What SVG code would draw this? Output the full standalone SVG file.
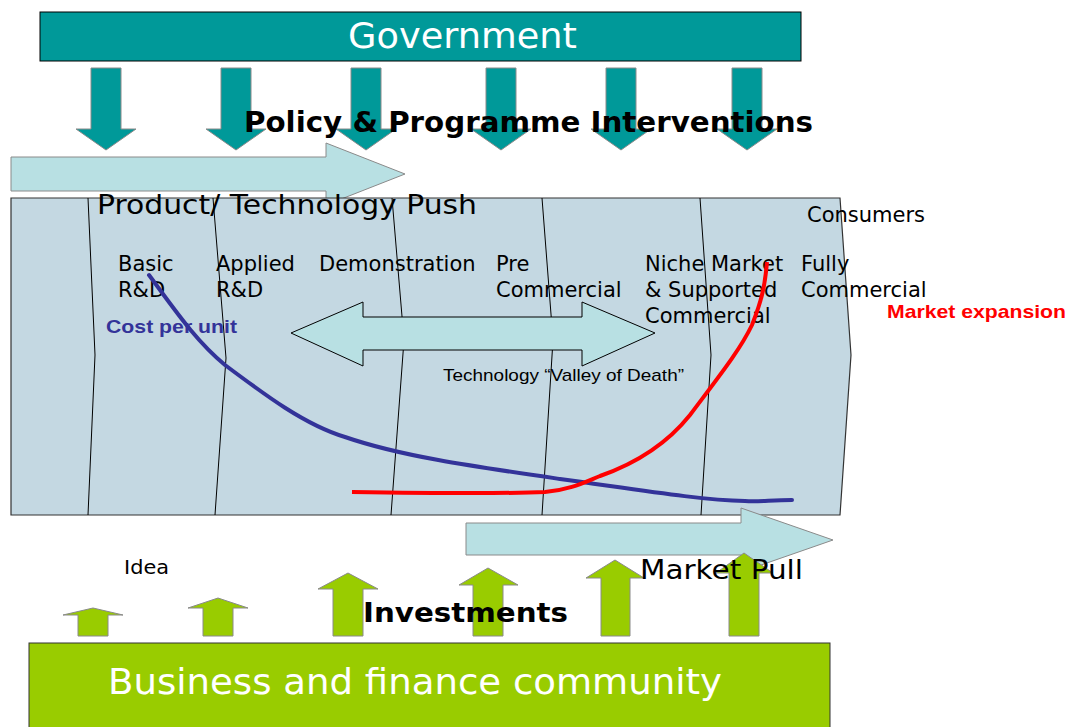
<svg xmlns="http://www.w3.org/2000/svg" width="1071" height="727" viewBox="0 0 1071 727">
  <style>
    .reg { font-family: "DejaVu Sans", Verdana, sans-serif; fill: #000; }
    .bold { font-family: "DejaVu Sans", Verdana, sans-serif; font-weight: bold; fill: #000; }
    .arial { font-family: "Liberation Sans", Arial, sans-serif; }
    .white { fill: #fff; }
    .stage { font-size: 21px; }
    .down { fill: #009999; stroke: #8a8a8a; stroke-width: 1; }
    .up { fill: #99CC00; stroke: #8a8a8a; stroke-width: 1; }
    .flow { fill: #B8E0E3; stroke: #8a8a8a; stroke-width: 1; }
    .divider { fill: none; stroke: #000; stroke-width: 1; }
  </style>

  <!-- Government bar -->
  <g id="government">
    <rect x="40" y="12" width="761" height="49" fill="#009999" stroke="#000" stroke-width="1"/>
    <text class="reg white" x="348" y="48" font-size="36" textLength="229" lengthAdjust="spacingAndGlyphs">Government</text>
  </g>

  <!-- Product / technology push arrow -->
  <g id="push-arrow">
    <polygon class="flow" points="11,157 326,157 326,143 405,174 326,205 326,191 11,191"/>
  </g>

  <!-- Policy interventions: downward arrows from government -->
  <g id="policy-arrows">
    <polygon class="down" points="91,68 121,68 121,129 136,129 106,150 76,129 91,129"/>
    <polygon class="down" points="221,68 251,68 251,129 266,129 236,150 206,129 221,129"/>
    <polygon class="down" points="351,68 381,68 381,129 396,129 366,150 336,129 351,129"/>
    <polygon class="down" points="486,68 516,68 516,129 531,129 501,150 471,129 486,129"/>
    <polygon class="down" points="606,68 636,68 636,129 651,129 621,150 591,129 606,129"/>
    <polygon class="down" points="732,68 762,68 762,129 777,129 747,150 717,129 732,129"/>
  </g>
  <g id="policy-label">
    <text class="bold" x="244" y="132" font-size="28" textLength="569" lengthAdjust="spacingAndGlyphs">Policy &amp; Programme Interventions</text>
  </g>

  <!-- Innovation chain stages -->
  <g id="stages">
    <path d="M11,198 H840 L851,355 L840,515 H11 Z" fill="#C4D8E2" stroke="#333" stroke-width="1.2"/>
    <polyline class="divider" points="88,198 95,355 88,515"/>
    <polyline class="divider" points="213,198 226,358 215,515"/>
    <polyline class="divider" points="392,198 404,340 391,515"/>
    <polyline class="divider" points="542,198 553,340 542,515"/>
    <polyline class="divider" points="700,198 711,355 701,515"/>
  </g>

  <g id="push-label">
    <text class="reg" x="97" y="214" font-size="27" textLength="380" lengthAdjust="spacingAndGlyphs">Product/ Technology Push</text>
  </g>

  <g id="stage-labels" class="reg stage">
    <text x="118" y="271">Basic</text>
    <text x="118" y="297">R&amp;D</text>
    <text x="216" y="271">Applied</text>
    <text x="216" y="297">R&amp;D</text>
    <text x="319" y="271">Demonstration</text>
    <text x="496" y="271">Pre</text>
    <text x="496" y="297">Commercial</text>
    <text x="645" y="271">Niche Market</text>
    <text x="645" y="297">&amp; Supported</text>
    <text x="645" y="323">Commercial</text>
    <text x="801" y="271">Fully</text>
    <text x="801" y="297">Commercial</text>
    <text x="807" y="222">Consumers</text>
  </g>

  <!-- Valley of death double arrow -->
  <g id="valley-of-death">
    <polygon points="291,333 363,302 363,317 582,317 582,302 655,333 582,366 582,350 363,350 363,366" fill="#B8E0E3" stroke="#000" stroke-width="1"/>
    <text class="arial" x="443" y="381" font-size="17" fill="#000" textLength="241" lengthAdjust="spacingAndGlyphs">Technology “Valley of Death”</text>
  </g>

  <!-- Curves: cost per unit and market expansion -->
  <g id="curves" fill="none" stroke-width="4" stroke-linecap="round">
    <path id="cost-curve" d="M149,275 C175,310 195,340 225,365 C265,395 305,425 345,437 C400,456 470,466 560,479 C640,490 700,500 745,501 C760,502 770,500 792,500" stroke="#333399"/>
    <path id="market-curve" d="M352,492 C420,493 500,494 545,492 C570,490 585,482 600,476 C640,462 670,440 690,415 C720,375 740,350 752,325 C762,300 765,285 767,262" stroke="#FF0000" stroke-linecap="butt"/>
  </g>

  <g id="curve-labels" class="arial" font-weight="bold">
    <text x="106" y="333" font-size="19" fill="#333399" textLength="131" lengthAdjust="spacingAndGlyphs">Cost per unit</text>
    <text x="887" y="318" font-size="19" fill="#FF0000" textLength="179" lengthAdjust="spacingAndGlyphs">Market expansion</text>
  </g>

  <!-- Market pull arrow -->
  <g id="pull-arrow">
    <polygon class="flow" points="466,523 741,523 741,508 833,540 741,572 741,555 466,555"/>
  </g>

  <!-- Investments: upward arrows from business -->
  <g id="investment-arrows">
    <polygon class="up" points="78,636 78,615 63,615 93,608 123,615 108,615 108,636"/>
    <polygon class="up" points="203,636 203,608 188,608 218,598 248,608 233,608 233,636"/>
    <polygon class="up" points="333,636 333,589 318,589 348,573 378,589 363,589 363,636"/>
    <polygon class="up" points="473,636 473,585 459,585 488,568 518,585 503,585 503,636"/>
    <polygon class="up" points="601,636 601,578 586,578 615,560 644,578 630,578 630,636"/>
    <polygon class="up" points="729,636 729,573 716,573 744,553 773,573 759,573 759,636"/>
  </g>

  <g id="bottom-labels">
    <text class="reg" x="124" y="574" font-size="19" textLength="45" lengthAdjust="spacingAndGlyphs">Idea</text>
    <text class="reg" x="640" y="579" font-size="26" textLength="163" lengthAdjust="spacingAndGlyphs">Market Pull</text>
    <text class="bold" x="363" y="622" font-size="26" textLength="205" lengthAdjust="spacingAndGlyphs">Investments</text>
  </g>

  <!-- Business and finance community -->
  <g id="business">
    <rect x="29" y="643" width="801" height="90" fill="#99CC00" stroke="#333" stroke-width="1"/>
    <text class="reg white" x="108" y="694" font-size="36" textLength="614" lengthAdjust="spacingAndGlyphs">Business and finance community</text>
  </g>
</svg>
